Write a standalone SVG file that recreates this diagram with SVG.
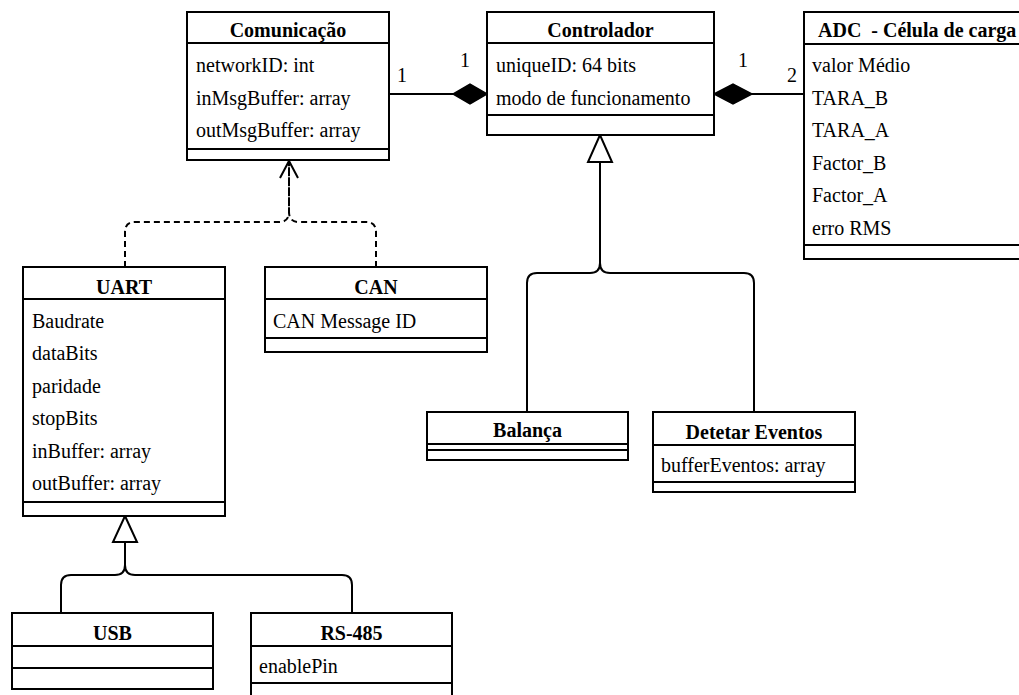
<svg xmlns="http://www.w3.org/2000/svg" width="1019" height="695" viewBox="0 0 1019 695">
<style>
.box{fill:#fff;stroke:#000;stroke-width:2}
.ln{fill:none;stroke:#000;stroke-width:2}
.t{font-family:"Liberation Serif","Times New Roman",serif;font-size:20px;fill:#000}
.h{font-family:"Liberation Serif","Times New Roman",serif;font-size:20px;font-weight:bold;fill:#000;text-anchor:middle}
.c{fill:none;stroke:#000;stroke-width:2}
.d{fill:none;stroke:#000;stroke-width:2;stroke-dasharray:6 4}
</style>
<rect width="1019" height="695" fill="#fff"/>
<g id="connectors">
  <line class="c" x1="389" y1="94" x2="453" y2="94"/>
  <path d="M487,94 L470,84 L453,94 L470,104 Z" fill="#000" stroke="#000" stroke-width="1.5"/>
  <line class="c" x1="752" y1="94" x2="804" y2="94"/>
  <path d="M714,94 L733,84 L752,94 L733,104 Z" fill="#000" stroke="#000" stroke-width="1.5"/>
  <text class="t" x="402" y="82" text-anchor="middle">1</text>
  <text class="t" x="465" y="67" text-anchor="middle">1</text>
  <text class="t" x="743" y="67" text-anchor="middle">1</text>
  <text class="t" x="792" y="82" text-anchor="middle">2</text>
  <path class="c" d="M527,412 V283 Q527,273 537,273 H590 Q600,273 600,263 V162"/>
  <path class="c" d="M754,412 V283 Q754,273 744,273 H610 Q600,273 600,263 V162"/>
  <path d="M600,135 L588,162 L612,162 Z" fill="#fff" stroke="#000" stroke-width="2"/>
  <path class="c" d="M61,613 V585 Q61,575 71,575 H115 Q125,575 125,565 V542"/>
  <path class="c" d="M352,613 V585 Q352,575 342,575 H135 Q125,575 125,565 V542"/>
  <path d="M125,516 L113,542 L137,542 Z" fill="#fff" stroke="#000" stroke-width="2"/>
  <path class="d" d="M125,267 V232 Q125,222 135,222 H279 Q289,222 289,212 V162"/>
  <path class="d" d="M376,267 V232 Q376,222 366,222 H299 Q289,222 289,212 V162"/>
  <path class="c" d="M280,178 L289,161 L298,178"/>
</g>
<g id="comunicacao">
  <rect class="box" x="187" y="12" width="202" height="148"/>
  <line class="ln" x1="187" y1="43" x2="389" y2="43"/>
  <line class="ln" x1="187" y1="149" x2="389" y2="149"/>
  <text class="h" x="288" y="37">Comunicação</text>
  <text class="t" x="196" y="72">networkID: int</text>
  <text class="t" x="196" y="104.5">inMsgBuffer: array</text>
  <text class="t" x="196" y="137">outMsgBuffer: array</text>
</g>
<g id="controlador">
  <rect class="box" x="487" y="12" width="227" height="123"/>
  <line class="ln" x1="487" y1="43" x2="714" y2="43"/>
  <line class="ln" x1="487" y1="115" x2="714" y2="115"/>
  <text class="h" x="600.5" y="37">Controlador</text>
  <text class="t" x="496" y="72">uniqueID: 64 bits</text>
  <text class="t" x="496" y="104.5">modo de funcionamento</text>
</g>
<g id="adc">
  <rect class="box" x="804" y="12" width="230" height="247"/>
  <line class="ln" x1="804" y1="44" x2="1034" y2="44"/>
  <line class="ln" x1="804" y1="245" x2="1034" y2="245"/>
  <text class="t" x="818" y="37" font-weight="bold" xml:space="preserve">ADC  - Célula de carga</text>
  <text class="t" x="812" y="72">valor Médio</text>
  <text class="t" x="812" y="104.5">TARA_B</text>
  <text class="t" x="812" y="137">TARA_A</text>
  <text class="t" x="812" y="169.5">Factor_B</text>
  <text class="t" x="812" y="202">Factor_A</text>
  <text class="t" x="812" y="234.5">erro RMS</text>
</g>
<g id="uart">
  <rect class="box" x="23" y="267" width="202" height="249"/>
  <line class="ln" x1="23" y1="299" x2="225" y2="299"/>
  <line class="ln" x1="23" y1="502" x2="225" y2="502"/>
  <text class="h" x="124" y="294">UART</text>
  <text class="t" x="32" y="328">Baudrate</text>
  <text class="t" x="32" y="360">dataBits</text>
  <text class="t" x="32" y="392.5">paridade</text>
  <text class="t" x="32" y="425">stopBits</text>
  <text class="t" x="32" y="457.5">inBuffer: array</text>
  <text class="t" x="32" y="490">outBuffer: array</text>
</g>
<g id="can">
  <rect class="box" x="265" y="267" width="222" height="85"/>
  <line class="ln" x1="265" y1="299" x2="487" y2="299"/>
  <line class="ln" x1="265" y1="338" x2="487" y2="338"/>
  <text class="h" x="376" y="294">CAN</text>
  <text class="t" x="273" y="328">CAN Message ID</text>
</g>
<g id="balanca">
  <rect class="box" x="427" y="412" width="201" height="48"/>
  <line class="ln" x1="427" y1="444" x2="628" y2="444"/>
  <line class="ln" x1="427" y1="450" x2="628" y2="450"/>
  <text class="h" x="527.5" y="437">Balança</text>
</g>
<g id="detetar">
  <rect class="box" x="653" y="412" width="202" height="80"/>
  <line class="ln" x1="653" y1="445" x2="855" y2="445"/>
  <line class="ln" x1="653" y1="482" x2="855" y2="482"/>
  <text class="h" x="754" y="439">Detetar Eventos</text>
  <text class="t" x="661" y="472">bufferEventos: array</text>
</g>
<g id="usb">
  <rect class="box" x="12" y="613" width="201" height="76"/>
  <line class="ln" x1="12" y1="646" x2="213" y2="646"/>
  <line class="ln" x1="12" y1="668" x2="213" y2="668"/>
  <text class="h" x="112.5" y="640">USB</text>
</g>
<g id="rs485">
  <rect class="box" x="251" y="613" width="201" height="100"/>
  <line class="ln" x1="251" y1="646" x2="452" y2="646"/>
  <line class="ln" x1="251" y1="683" x2="452" y2="683"/>
  <text class="h" x="351.5" y="640">RS-485</text>
  <text class="t" x="259" y="673">enablePin</text>
</g>
</svg>
